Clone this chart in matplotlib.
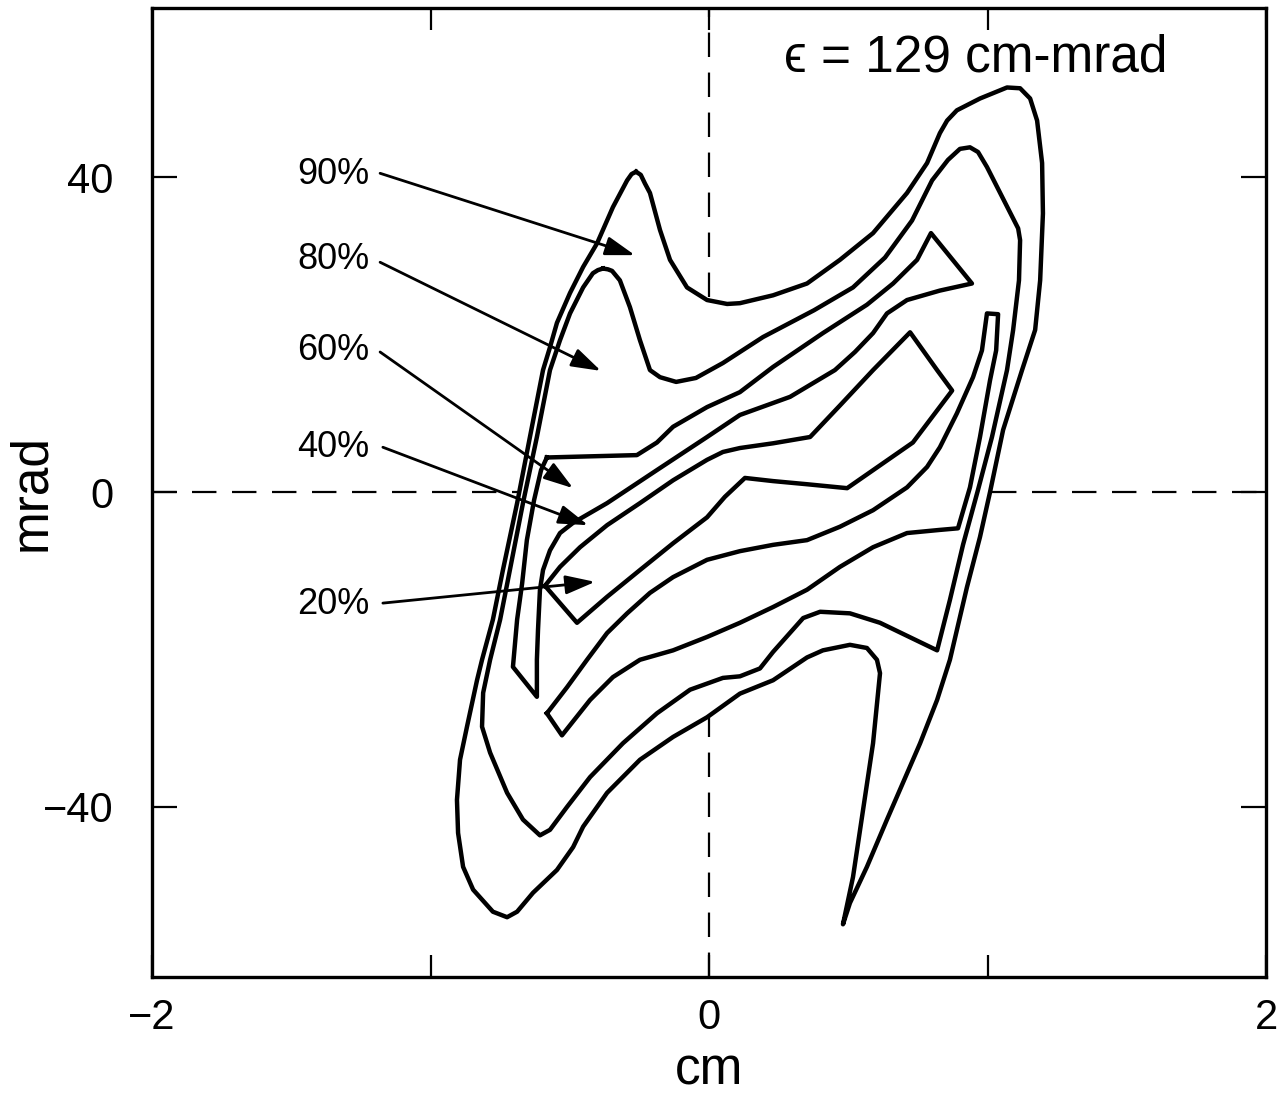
import matplotlib
matplotlib.use('Agg')
import matplotlib.pyplot as plt

plt.rcParams['font.family'] = ['Liberation Sans', 'DejaVu Sans']

# traced contour lines (x in cm, y in mrad)
c90_x = [-0.262, -0.245, -0.230, -0.212, -0.176, -0.140, -0.079, -0.007, 0.065, 0.111, 0.230, 0.352, 0.470,
         0.589, 0.711, 0.783, 0.829, 0.855, 0.890, 0.973, 1.070, 1.117, 1.153, 1.178, 1.196, 1.199,
         1.189, 1.171, 1.124, 1.056, 1.009, 0.973, 0.926, 0.865, 0.819, 0.758, 0.639, 0.567, 0.506,
         0.481, 0.517, 0.553, 0.589, 0.607, 0.614, 0.603, 0.567, 0.506, 0.409, 0.352, 0.230, 0.111,
         -0.007, -0.129, -0.248, -0.366, -0.452, -0.488, -0.546, -0.632, -0.689, -0.725, -0.776,
         -0.847, -0.883, -0.901, -0.905, -0.894, -0.869, -0.833, -0.815, -0.776, -0.740, -0.689,
         -0.643, -0.596, -0.571, -0.546, -0.499, -0.452, -0.402, -0.345, -0.294, -0.278]
c90_y = [40.7, 40.3, 39.2, 38.0, 33.3, 29.5, 26.0, 24.4, 23.9, 24.0, 25.0, 26.5, 29.5,
         32.9, 38.0, 41.8, 45.6, 47.2, 48.5, 50.0, 51.4, 51.3, 50.0, 47.2, 41.8, 35.4,
         26.9, 20.6, 15.5, 7.9, 0.0, -5.7, -12.1, -21.3, -26.4, -31.9, -41.6, -47.6, -52.2,
         -54.9, -48.9, -40.4, -31.9, -25.5, -23.0, -21.3, -19.8, -19.4, -20.1, -21.0, -23.9, -25.6,
         -28.6, -31.1, -34.0, -38.2, -42.5, -45.1, -48.0, -50.9, -53.3, -54.0, -53.3,
         -50.5, -47.6, -43.3, -39.1, -34.0, -29.8, -23.9, -21.3, -16.2, -9.9, -1.4,
         7.0, 15.5, 18.4, 21.5, 25.3, 28.6, 31.6, 36.2, 39.6, 40.4]

c80_x = [-0.381, -0.363, -0.348, -0.320, -0.284, -0.248, -0.212, -0.176, -0.118, -0.047, 0.050, 0.194,
         0.377, 0.517, 0.632, 0.729, 0.801, 0.858, 0.901, 0.937, 0.966, 0.998, 1.110, 1.117, 1.113,
         1.092, 1.070, 1.016, 0.966, 0.912, 0.865, 0.819, 0.614, 0.506, 0.399, 0.338, 0.230, 0.183,
         0.111, 0.050, -0.068, -0.187, -0.309, -0.427, -0.510, -0.571, -0.607, -0.668, -0.725,
         -0.786, -0.815, -0.811, -0.786, -0.750, -0.715, -0.668, -0.618, -0.571, -0.535, -0.499,
         -0.452, -0.417, -0.399]
c80_y = [28.4, 28.3, 28.1, 26.9, 23.5, 19.3, 15.5, 14.6, 14.0, 14.5, 16.4, 19.7,
         23.1, 26.0, 29.8, 34.5, 39.6, 42.2, 43.6, 43.8, 43.2, 41.3, 33.5, 32.0, 26.9,
         20.6, 15.5, 7.0, 0.3, -6.7, -13.7, -20.1, -16.6, -15.4, -15.2, -16.0, -20.3, -22.4,
         -23.4, -23.6, -25.1, -28.1, -31.9, -36.2, -40.0, -42.9, -43.6, -41.6, -38.2,
         -33.1, -29.8, -25.5, -21.3, -16.2, -9.9, -1.4, 7.0, 15.5, 19.3, 22.7,
         26.0, 27.8, 28.2]

c60_x = [-0.582, -0.259, -0.187, -0.129, -0.007, 0.111, 0.230, 0.409, 0.567, 0.661, 0.747, 0.797,
         0.944, 0.829, 0.711, 0.639, 0.589, 0.524, 0.452, 0.291, 0.111, -0.007, -0.187, -0.366,
         -0.488, -0.535, -0.571, -0.596, -0.607, -0.614, -0.618, -0.618, -0.704, -0.689, -0.671,
         -0.654, -0.628, -0.603]
c60_y = [4.4, 4.7, 6.3, 8.3, 10.8, 12.7, 15.9, 20.2, 23.8, 26.5, 29.5, 32.9,
         26.5, 25.6, 24.4, 22.7, 20.2, 17.8, 15.5, 12.1, 9.8, 7.0, 2.8, -1.4,
         -3.9, -5.2, -7.4, -9.9, -12.4, -17.5, -21.3, -26.0, -22.2, -16.2, -11.6,
         -6.1, -1.0, 2.8]

c40_x = [-0.589, -0.535, -0.463, -0.366, -0.248, -0.129, -0.007, 0.050, 0.111, 0.230, 0.363, 0.470,
         0.589, 0.722, 0.819, 0.873, 0.732, 0.496, 0.352, 0.230, 0.129, 0.057, -0.007, -0.129,
         -0.248, -0.366, -0.474]
c40_y = [-11.9, -9.5, -7.0, -4.2, -1.4, 1.5, 4.1, 5.1, 5.6, 6.2, 7.0, 11.0,
         15.5, 20.3, 15.5, 12.9, 6.3, 0.5, 1.0, 1.4, 1.8, -0.6, -3.2, -6.5,
         -9.9, -13.3, -16.6]

c20_x = [-0.582, -0.510, -0.438, -0.366, -0.294, -0.212, -0.129, -0.007, 0.111, 0.230, 0.352, 0.470,
         0.589, 0.711, 0.783, 0.829, 0.890, 0.948, 0.980, 0.998, 1.038, 1.031, 1.009, 0.973, 0.937,
         0.894, 0.829, 0.711, 0.589, 0.470, 0.352, 0.230, 0.111, -0.007, -0.129, -0.248, -0.345,
         -0.427, -0.528]
c20_y = [-28.1, -24.8, -21.3, -17.9, -15.4, -12.8, -10.8, -8.6, -7.5, -6.7, -6.1, -4.4,
         -2.3, 0.6, 3.2, 5.7, 10.0, 14.6, 18.0, 22.7, 22.6, 18.0, 14.2, 7.0, 0.6,
         -4.6, -4.8, -5.2, -7.0, -9.5, -12.4, -14.6, -16.6, -18.4, -20.1, -21.3, -23.5,
         -26.4, -30.9]

# labels and the points their arrows run between
pct_labels = ['90%', '80%', '60%', '40%', '20%']
label_x = [-1.35, -1.35, -1.35, -1.35, -1.35]
label_y = [40.4, 29.5, 18.0, 5.7, -14.3]
arrow_from_x = [-1.181, -1.181, -1.181, -1.171, -1.171]
arrow_from_y = [40.5, 29.2, 17.8, 5.7, -14.1]
arrow_to_x = [-0.266, -0.388, -0.488, -0.434, -0.409]
arrow_to_y = [30.1, 15.4, 0.5, -4.2, -11.4]

xticks = [-2, -1, 0, 1, 2]
xticklabels = ['\u22122', '', '0', '', '2']
yticks = [-40, 0, 40]
yticklabels = ['\u221240', '0', '40']

fig = plt.figure(figsize=(12.87, 11.07), dpi=100)
ax = fig.add_axes([0.1181, 0.1174, 0.8656, 0.8754])

ax.axhline(0, color='black', lw=1.6, ls=(0, (11, 7)), zorder=1)
ax.axvline(0, color='black', lw=1.6, ls=(0, (11, 7)), zorder=1)
ax.fill(c90_x, c90_y, color='white', zorder=1.5)

for cx, cy in [(c90_x, c90_y), (c80_x, c80_y), (c60_x, c60_y), (c40_x, c40_y), (c20_x, c20_y)]:
    ax.plot(cx + cx[:1], cy + cy[:1], color='black', lw=3.2,
            solid_joinstyle='round', zorder=3)

for i in range(len(pct_labels)):
    ax.text(label_x[i], label_y[i], pct_labels[i], fontsize=26, ha='center', va='center')
    ax.annotate('', xy=(arrow_to_x[i], arrow_to_y[i]),
                xytext=(arrow_from_x[i], arrow_from_y[i]),
                arrowprops=dict(arrowstyle='-|>,head_length=1.0,head_width=0.32',
                                color='black', lw=2.0, shrinkA=0, shrinkB=0,
                                mutation_scale=18),
                zorder=4)

ax.text(0.959, 55.1, '\u03f5 = 129 cm-mrad', fontsize=37, ha='center', va='center')

ax.set_xlim(-2, 2)
ax.set_ylim(-61.6, 61.5)
ax.set_xticks(xticks)
ax.set_xticklabels(xticklabels, fontsize=30)
ax.set_yticks(yticks)
ax.set_yticklabels(yticklabels, fontsize=30)
ax.tick_params(axis='x', direction='in', length=16, width=1.6, top=True, pad=15)
ax.tick_params(axis='y', direction='in', length=18, width=1.6, right=True, pad=28)
for s in ax.spines.values():
    s.set_linewidth(2.4)

ax.set_xlabel('cm', fontsize=37, labelpad=6)
ax.set_ylabel('mrad', fontsize=37)
ax.yaxis.set_label_coords(-0.086, 0.5)

plt.savefig('out.png', dpi=100)
